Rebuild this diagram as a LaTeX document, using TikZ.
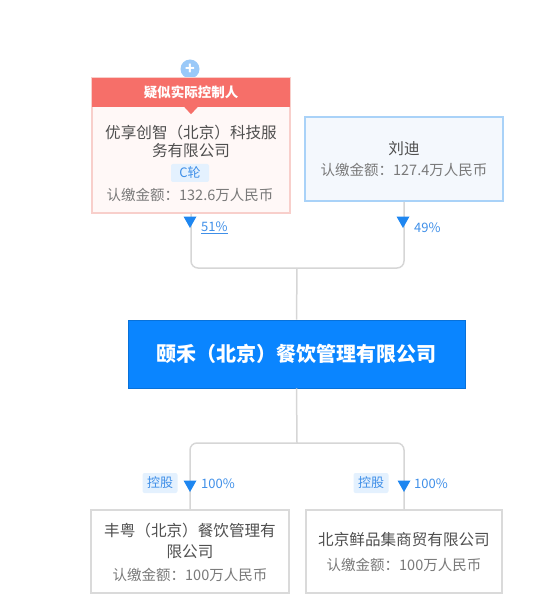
\documentclass[tikz,border=0pt]{standalone}
\usepackage{fontspec}
\setmainfont{Noto Sans CJK SC}
\usetikzlibrary{arrows.meta,positioning,calc}
\definecolor{coral}{HTML}{F66F69}
\definecolor{pinkfill}{HTML}{FFF8F7}
\definecolor{pinkedge}{HTML}{F8CFCB}
\definecolor{bluefill}{HTML}{F4F8FD}
\definecolor{blueedge}{HTML}{A9D2F8}
\definecolor{mainblue}{HTML}{0A85FF}
\definecolor{grayedge}{HTML}{DADADA}
\definecolor{linegray}{HTML}{D6D6D6}
\definecolor{arrowblue}{HTML}{1E86F0}
\definecolor{pctblue}{HTML}{3F8FE8}
\definecolor{tagfill}{HTML}{E4F1FE}
\definecolor{nametext}{HTML}{4F4F4F}
\definecolor{subtext}{HTML}{7A7A7A}

\begin{document}
\begin{tikzpicture}[x=1pt,y=-1pt,
  card/.style={rectangle, draw=grayedge, line width=1.3pt, fill=white,
               minimum width=198pt, minimum height=83pt, inner sep=0pt},
  hdrbox/.style={rectangle, fill=coral, minimum width=198pt, minimum height=29pt,
                 inner sep=0pt, font=\fontsize{13.5}{15}\selectfont\bfseries, text=white},
  mainbox/.style={rectangle, fill=mainblue, draw=mainblue!85!black, line width=0.6pt,
                  minimum width=337pt, minimum height=68pt,
                  font=\fontsize{20}{24}\selectfont\bfseries, text=white},
  cname/.style={font=\fontsize{15.6}{18}\selectfont, text=nametext, align=center, inner sep=0pt},
  amount/.style={font=\fontsize{14.5}{16}\selectfont, text=subtext, inner sep=0pt},
  tag/.style={rectangle, rounded corners=2pt, fill=tagfill, text=pctblue, inner sep=0pt,
              font=\fontsize{13}{14}\selectfont},
  pct/.style={anchor=west, text=pctblue, inner sep=0pt, font=\fontsize{13}{15}\selectfont},
  link/.style={draw=linegray, line width=1.5pt, rounded corners=7pt},
  tri/.pic={\fill[arrowblue] (-6.5,-5.5)--(6.5,-5.5)--(0,6)--cycle;},
]
  \useasboundingbox (0,0) rectangle (550,612);

  % top row: owners
  \node[circle, fill=arrowblue!45, minimum size=19pt, inner sep=0pt,
        font=\fontsize{16}{16}\selectfont\bfseries, text=white] (plus) at (190,69) {+};
  \node[card, draw=pinkedge, fill=pinkfill, minimum height=135pt] (ctrl) at (191,145.5) {};
  \node[hdrbox] (hdr) at (191,92.5) {疑似实际控制人};
  \fill[coral] ($(hdr.south)+(-7,-0.5)$) -- ($(hdr.south)+(7,-0.5)$) -- ($(hdr.south)+(0,7)$) -- cycle;
  \node[cname] (ctrlname) at (191,141) {优享创智（北京）科技服\\务有限公司};
  \node[tag, minimum width=38pt, minimum height=18pt] (round) at (190,173) {C轮};
  \node[amount] (ctrlamt) at (190,195) {认缴金额：132.6万人民币};

  \node[card, draw=blueedge, fill=bluefill, line width=1.6pt, minimum height=84pt] (liu) at (404,159) {};
  \node[cname] (liuname) at (404,149) {刘迪};
  \node[amount] (liuamt) at (404,170) {认缴金额：127.4万人民币};

  % target company
  \node[mainbox] (main) at (296.5,354) {颐禾（北京）餐饮管理有限公司};

  % subsidiaries
  \node[card] (sub1) at (190,551.5) {};
  \node[cname, font=\fontsize{15.6}{21.5}\selectfont] (sub1name) at (190,541) {丰粤（北京）餐饮管理有\\限公司};
  \node[amount] (sub1amt) at (190,575) {认缴金额：100万人民币};
  \node[card, minimum width=196pt] (sub2) at (404,551.5) {};
  \node[cname] (sub2name) at (404,540) {北京鲜品集商贸有限公司};
  \node[amount] (sub2amt) at (404,565) {认缴金额：100万人民币};

  % connectors
  \coordinate (jtop) at (297,268);
  \coordinate (jbot) at (297,443);
  \draw[link] (ctrl.south) |- (jtop) -| (liu.south);
  \draw[link] (jtop) -- (main.north);
  \draw[link] (main.south) -- (jbot);
  \draw[link] (sub1.north) |- (jbot) -| (sub2.north);

  % arrow marks and shares
  \pic at (190,222) {tri}; \pic at (403,222) {tri};
  \pic at (190,486) {tri}; \pic at (404,486) {tri};
  \node[pct] (p51) at (201,228) {\underline{51\%}};
  \node[pct] (p49) at (414,228) {49\%};
  \node[tag, minimum width=35pt, minimum height=20pt] (hold1) at (160,483) {控股};
  \node[pct] (p100a) at (201,484) {100\%};
  \node[tag, minimum width=35pt, minimum height=20pt] (hold2) at (371,483) {控股};
  \node[pct] (p100b) at (414,484) {100\%};
\end{tikzpicture}
\end{document}
